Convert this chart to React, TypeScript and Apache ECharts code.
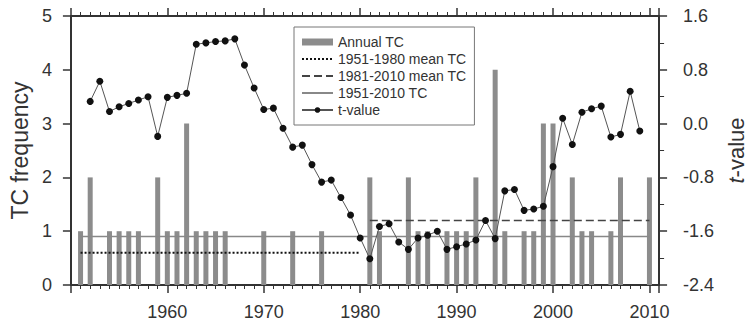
import React, { useEffect, useRef } from "react";
import * as echarts from "echarts";

// Annual tropical cyclone counts, 1951-2010
const tcYears: number[] = [
  1951, 1952, 1953, 1954, 1955, 1956, 1957, 1958, 1959, 1960,
  1961, 1962, 1963, 1964, 1965, 1966, 1967, 1968, 1969, 1970,
  1971, 1972, 1973, 1974, 1975, 1976, 1977, 1978, 1979, 1980,
  1981, 1982, 1983, 1984, 1985, 1986, 1987, 1988, 1989, 1990,
  1991, 1992, 1993, 1994, 1995, 1996, 1997, 1998, 1999, 2000,
  2001, 2002, 2003, 2004, 2005, 2006, 2007, 2008, 2009, 2010,
];
const tcCounts: number[] = [
  1, 2, 0, 1, 1, 1, 1, 0, 2, 1,
  1, 3, 1, 1, 1, 1, 0, 0, 0, 1,
  0, 0, 1, 0, 0, 1, 0, 0, 0, 0,
  2, 1, 0, 0, 2, 1, 1, 0, 1, 1,
  1, 2, 0, 4, 1, 0, 1, 1, 3, 3,
  0, 2, 1, 1, 0, 1, 2, 0, 0, 2,
];

// Sliding t-test statistic, 1952-2009
const tYears: number[] = [
  1952, 1953, 1954, 1955, 1956, 1957, 1958, 1959, 1960, 1961,
  1962, 1963, 1964, 1965, 1966, 1967, 1968, 1969, 1970, 1971,
  1972, 1973, 1974, 1975, 1976, 1977, 1978, 1979, 1980, 1981,
  1982, 1983, 1984, 1985, 1986, 1987, 1988, 1989, 1990, 1991,
  1992, 1993, 1994, 1995, 1996, 1997, 1998, 1999, 2000, 2001,
  2002, 2003, 2004, 2005, 2006, 2007, 2008, 2009,
];
const tValues: number[] = [
  0.33, 0.63, 0.18, 0.25, 0.3, 0.35, 0.4, -0.19, 0.39, 0.42,
  0.45, 1.18, 1.2, 1.22, 1.23, 1.26, 0.87, 0.53, 0.21, 0.23,
  -0.07, -0.35, -0.32, -0.61, -0.87, -0.84, -1.1, -1.36, -1.7, -2.01,
  -1.53, -1.49, -1.76, -1.87, -1.7, -1.66, -1.6, -1.87, -1.83, -1.79,
  -1.73, -1.44, -1.71, -1.0, -0.98, -1.29, -1.27, -1.23, -0.64, 0.08,
  -0.31, 0.17, 0.22, 0.26, -0.2, -0.16, 0.48, -0.11,
];

// Period means: [start year, end year, mean TC]
const meanEarly: number[] = [1951, 1980, 0.6];
const meanLate: number[] = [1981, 2010, 1.2];
const meanAll: number[] = [1951, 2010, 0.9];

const leftTicks: number[] = [0, 5, 1];
const rightTicks: number[] = [-2.4, 1.6, 0.8];
const yearTicks: number[] = [1950, 2011, 10];

const FONT = "'Liberation Sans', Arial, Helvetica, sans-serif";
const INK = "#333";
const NO_FILL = "rgba(0,0,0,0)";

export default function App() {
  const ref = useRef<HTMLDivElement>(null);

  useEffect(() => {
    if (!ref.current) return;
    const chart = echarts.init(ref.current, undefined, { renderer: "svg" });

    const axisLine = { show: true, onZero: false, lineStyle: { color: INK, width: 2 } };
    const xAxisBase = {
      type: "value" as const,
      min: yearTicks[0],
      max: yearTicks[1],
      interval: yearTicks[2],
      splitLine: { show: false },
      axisLine,
      axisTick: { show: true, inside: false, length: 8, lineStyle: { color: INK, width: 1.5 } },
      minorTick: { show: true, splitNumber: 10, length: 4, lineStyle: { color: INK, width: 1 } },
    };

    const seg = (m: number[]) => [
      [m[0], m[2]],
      [m[1], m[2]],
    ];

    chart.setOption({
      animation: false,
      textStyle: { fontFamily: FONT },
      grid: { left: 62, right: 91, top: 16, bottom: 35, containLabel: false },
      legend: {
        orient: "vertical",
        left: 294,
        top: 27,
        padding: [8, 8, 8, 7],
        itemGap: 3,
        itemWidth: 31,
        itemHeight: 7,
        itemTextGap: 9,
        borderColor: "#777",
        borderWidth: 1,
        backgroundColor: "#fff",
        textStyle: { fontSize: 14, lineHeight: 14, color: INK, fontFamily: FONT },
        data: [
          { name: "Annual TC", icon: "rect" },
          { name: "1951-1980 mean TC" },
          { name: "1981-2010 mean TC" },
          { name: "1951-2010 TC" },
          { name: "t-value" },
        ],
      },
      xAxis: [
        {
          ...xAxisBase,
          position: "bottom",
          axisLabel: {
            show: true,
            fontSize: 18,
            color: INK,
            margin: 18,
            formatter: (v: number) => (v % 10 === 0 && v > yearTicks[0] ? String(v) : ""),
          },
        },
        {
          ...xAxisBase,
          position: "top",
          axisLabel: { show: false },
        },
      ],
      yAxis: [
        {
          type: "value",
          position: "left",
          min: leftTicks[0],
          max: leftTicks[1],
          interval: leftTicks[2],
          splitLine: { show: false },
          axisLine,
          axisTick: { show: true, length: 8, lineStyle: { color: INK, width: 1.5 } },
          axisLabel: { fontSize: 18, color: INK, margin: 19 },
          name: "TC frequency",
          nameLocation: "middle",
          nameRotate: 90,
          nameGap: 38,
          nameTextStyle: { fontSize: 23, color: INK, fontFamily: FONT },
        },
        {
          type: "value",
          position: "right",
          min: rightTicks[0],
          max: rightTicks[1],
          interval: rightTicks[2],
          splitLine: { show: false },
          axisLine,
          axisTick: { show: true, length: 8, lineStyle: { color: INK, width: 1.5 } },
          minorTick: { show: true, splitNumber: 2, length: 5, lineStyle: { color: INK, width: 1 } },
          axisLabel: {
            fontSize: 18,
            color: INK,
            margin: 24,
            formatter: (v: number) => v.toFixed(1),
          },
          name: "{i|t}-value",
          nameLocation: "middle",
          nameRotate: 90,
          nameGap: 59,
          nameTextStyle: {
            fontSize: 22,
            color: INK,
            fontFamily: FONT,
            rich: { i: { fontStyle: "italic", fontSize: 22, color: INK, fontFamily: FONT } },
          },
        },
      ],
      series: [
        {
          name: "Annual TC",
          type: "bar",
          xAxisIndex: 0,
          yAxisIndex: 0,
          barWidth: 5,
          itemStyle: { color: "#8c8c8c" },
          data: tcYears.map((y, i) => [y, tcCounts[i]]),
          z: 2,
        },
        {
          name: "1951-1980 mean TC",
          type: "line",
          xAxisIndex: 0,
          yAxisIndex: 0,
          symbol: "none",
          lineStyle: { color: "#111", width: 2, type: [2, 2] },
          itemStyle: { color: NO_FILL },
          data: seg(meanEarly),
          z: 3,
        },
        {
          name: "1981-2010 mean TC",
          type: "line",
          xAxisIndex: 0,
          yAxisIndex: 0,
          symbol: "none",
          lineStyle: { color: "#444", width: 1.5, type: [8, 4] },
          itemStyle: { color: NO_FILL },
          data: seg(meanLate),
          z: 3,
        },
        {
          name: "1951-2010 TC",
          type: "line",
          xAxisIndex: 0,
          yAxisIndex: 0,
          symbol: "none",
          lineStyle: { color: "#888", width: 1.5 },
          itemStyle: { color: NO_FILL },
          data: seg(meanAll),
          z: 3,
        },
        {
          name: "t-value",
          type: "line",
          xAxisIndex: 0,
          yAxisIndex: 1,
          symbol: "circle",
          symbolSize: 7,
          lineStyle: { color: "#555", width: 1 },
          itemStyle: { color: "#111" },
          data: tYears.map((y, i) => [y, tValues[i]]),
          z: 4,
        },
      ],
    });

    return () => chart.dispose();
  }, []);

  return (
    <div
      ref={ref}
      style={{ position: "absolute", left: 0, top: 0, width: 755, height: 321 }}
    />
  );
}
